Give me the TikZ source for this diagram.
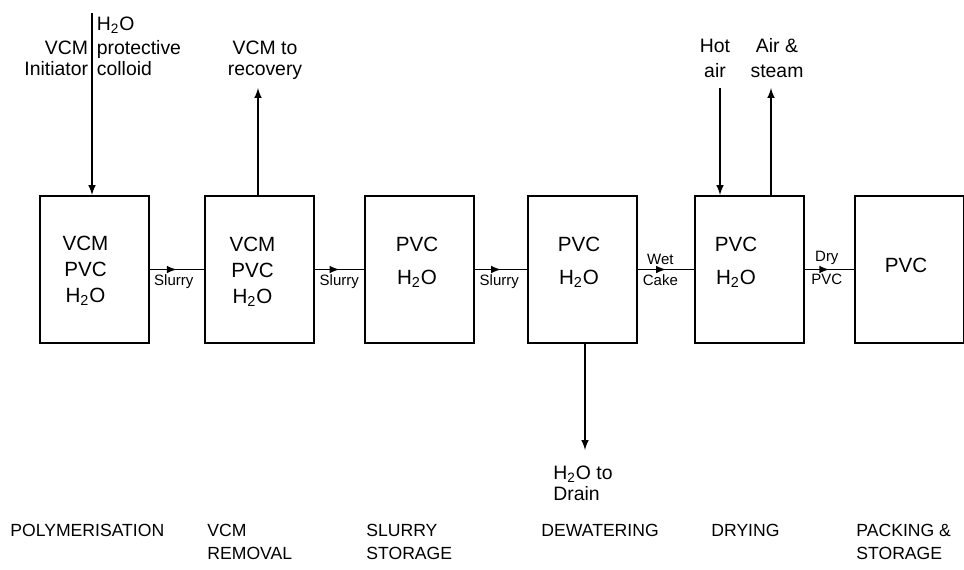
\documentclass[tikz,border=0pt]{standalone}
\usepackage{fontspec}
\setmainfont{Liberation Sans}
\usetikzlibrary{decorations.markings}

\tikzset{
  unit/.style={draw,line width=1pt,minimum width=54.5pt,minimum height=73.5pt,inner sep=0pt},
  inside/.style={align=center,inner sep=0pt,font=\fontsize{10.3}{13}\selectfont},
  flow/.style={line width=0.7pt,decoration={markings,mark=at position 0.5 with {\arrow{>}}},postaction={decorate}},
  pipe/.style={line width=0.7pt,->},
  tag/.style={font=\fontsize{7.5}{8}\selectfont,inner sep=2pt},
  stream/.style={inner sep=0pt,font=\fontsize{9.7}{10.5}\selectfont},
  stage/.style={anchor=west,align=left,inner sep=0pt,font=\fontsize{8.8}{11.5}\selectfont},
}

\begin{document}
\begin{tikzpicture}[x=0.5pt,y=-0.5pt,>=latex]
  \useasboundingbox (0,0) rectangle (964,569);
  % vessels
  \node[unit] (pol) at (94,269.5) {};
  \node[unit] (rem) at (259.5,269.5) {};
  \node[unit] (sto) at (419.5,269.5) {};
  \node[unit] (dew) at (582.5,269.5) {};
  \node[unit] (dry) at (749.5,269.5) {};
  \node[unit] (pack) at (909,269.5) {};
  % contents
  \node[inside] (polIn) at (85.5,271) {VCM\\PVC\\H\textsubscript{2}O};
  \node[inside] (remIn) at (252.5,272) {VCM\\PVC\\H\textsubscript{2}O};
  \node[inside] (stoIn) at (417,262) {PVC\\[3.5pt]H\textsubscript{2}O};
  \node[inside] (dewIn) at (579,262) {PVC\\[3.5pt]H\textsubscript{2}O};
  \node[inside] (dryIn) at (736,262) {PVC\\[3.5pt]H\textsubscript{2}O};
  \node[inside] (packIn) at (906,265) {PVC};
  % product line
  \draw[flow] (pol) -- node[tag,pos=0,anchor=north west] (slurA) {Slurry} (rem);
  \draw[flow] (rem) -- node[tag,pos=0,anchor=north west] (slurB) {Slurry} (sto);
  \draw[flow] (sto) -- node[tag,pos=0,anchor=north west] (slurC) {Slurry} (dew);
  \draw[flow] (dew) -- node[tag,pos=0.4,above] (wet) {Wet}
    node[tag,pos=0.4,below] (cake) {Cake} (dry);
  \draw[flow] (dry) -- node[tag,pos=0.45,above] (dryA) {Dry}
    node[tag,pos=0.45,below] (dryB) {PVC} (pack);
  % feeds and vents
  \coordinate (feedTop) at (92,13);
  \draw[pipe] (feedTop) -- (feedTop |- pol.north);
  \node[stream,anchor=east,align=right] (feedL) at (88.5,58) {VCM\\Initiator};
  \node[stream,anchor=west,align=left] (feedR) at (96.5,46) {H\textsubscript{2}O\\[1.5pt]protective\\colloid};
  \coordinate (recTop) at (258,88);
  \draw[pipe] (recTop |- rem.north) -- (recTop);
  \node[stream,align=center] (rec) at (265,60) {VCM to\\recovery};
  \coordinate (hotTop) at (720,88);
  \draw[pipe] (hotTop) -- (hotTop |- dry.north);
  \node[stream,align=center,font=\fontsize{9.7}{12.5}\selectfont] (hot) at (715,58) {Hot\\air};
  \coordinate (ventTop) at (771,88);
  \draw[pipe] (ventTop |- dry.north) -- (ventTop);
  \node[stream,align=center,font=\fontsize{9.7}{12.5}\selectfont] (vent) at (777,58) {Air \&\\steam};
  \coordinate (drainEnd) at (585,450);
  \draw[pipe] (drainEnd |- dew.south) -- (drainEnd);
  \node[stream,anchor=west,align=left] (drain) at (553,483) {H\textsubscript{2}O to\\Drain};
  % stages
  \node[stage] (polName) at (10,530) {POLYMERISATION};
  \node[stage] (remName) at (207,541.5) {VCM\\REMOVAL};
  \node[stage] (stoName) at (366,541.5) {SLURRY\\STORAGE};
  \node[stage] (dewName) at (541,530) {DEWATERING};
  \node[stage] (dryName) at (711,530) {DRYING};
  \node[stage] (packName) at (856,541.5) {PACKING \&\\STORAGE};
\end{tikzpicture}
\end{document}
